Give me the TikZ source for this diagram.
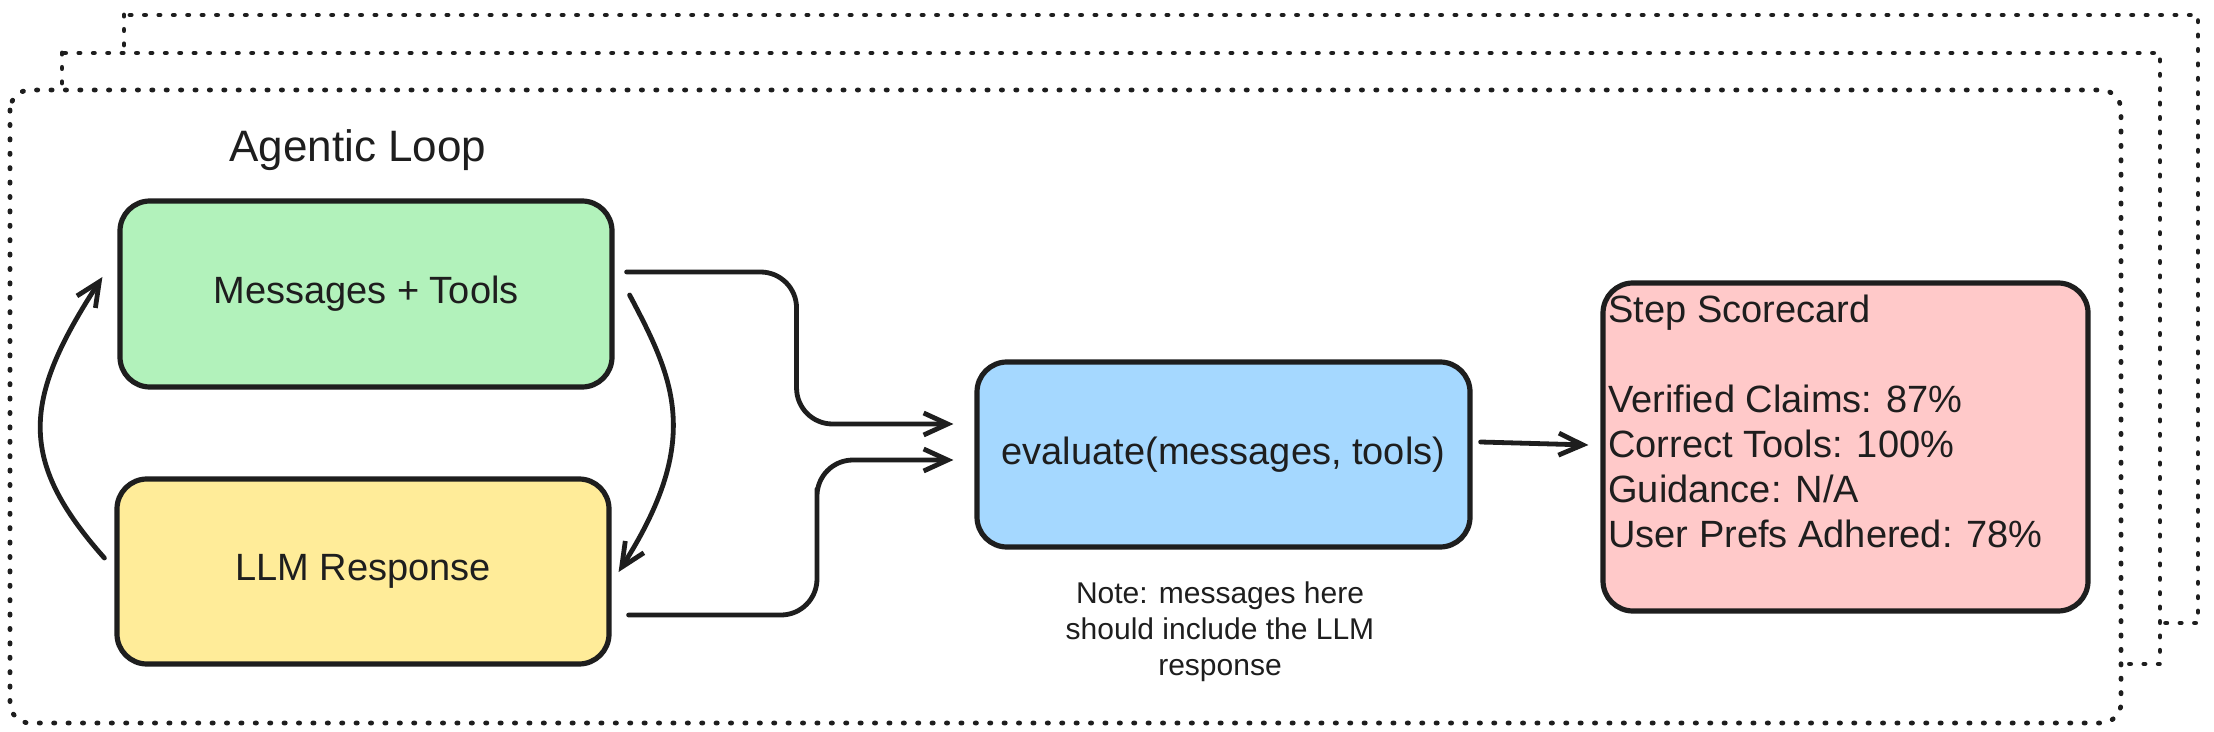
\documentclass[tikz,border=0pt]{standalone}
\usepackage{fontspec}
\setmainfont{Liberation Sans}
\usepackage{xcolor}
\usepackage{tikz}
\usetikzlibrary{calc,arrows.meta}
\definecolor{ink}{HTML}{1E1E1E}
\definecolor{mint}{HTML}{B2F2BB}
\definecolor{butter}{HTML}{FFEC99}
\definecolor{sky}{HTML}{A5D8FF}
\definecolor{blush}{HTML}{FFC9C9}
\tikzset{
  frameDots/.style={draw=ink, fill=white, line width=2.4pt, line cap=round, dash pattern=on 0.6pt off 6.6pt},
  boxEdge/.style={draw=ink, line width=2.6pt, rounded corners=15pt, inner sep=0pt, text=ink},
  flowArr/.style={draw=ink, line width=2.4pt, line cap=round, line join=round, -{Straight Barb[length=12pt,width=11pt]}},
  mainLbl/.style={font=\fontsize{19}{22.5}\selectfont},
  titleLbl/.style={text=ink, font=\fontsize{22}{26}\selectfont},
  noteLbl/.style={text=ink, align=center, inner sep=0pt, font=\fontsize{15}{18}\selectfont},
}
\newcommand{\FrameStack}{%
  \draw[frameDots] (124,15) rectangle (2198,623);
  \draw[frameDots] (62,53) rectangle (2160,664);
  \draw[frameDots, rounded corners=10pt] (10,90) rectangle (2121,723);
}

\begin{document}
\begin{tikzpicture}[x=0.5pt, y=-0.5pt]
  \useasboundingbox (0,0) rectangle (2214,732);
  \FrameStack

  \node[titleLbl] (title) at (358,150) {Agentic Loop};

  \node[boxEdge, mainLbl, fill=mint, minimum width=246pt, minimum height=93pt] (msgs) at (366,294) {Messages + Tools};
  \node[boxEdge, mainLbl, fill=butter, minimum width=246pt, minimum height=92.5pt] (llm) at (363,571.5) {LLM Response};
  \node[boxEdge, mainLbl, fill=sky, minimum width=246.5pt, minimum height=92.5pt] (eval) at (1223.5,454.5) {evaluate(messages, tools)};
  \node[boxEdge, fill=blush, minimum width=242.5pt, minimum height=164pt] (score) at (1845.5,447) {};
  \node[mainLbl, text=ink, align=left, inner sep=0pt, anchor=north west] (scoreTxt) at (1608,295)
    {Step Scorecard\\[22.5pt]Verified Claims: 87\%\\Correct Tools: 100\%\\Guidance: N/A\\User Prefs Adhered: 78\%};
  \node[noteLbl, anchor=north] (note) at (1220,581) {Note: messages here\\should include the LLM\\response};

  % loop between the two boxes
  \coordinate (s1) at ($(llm.west)+(-10,-13.5)$);
  \coordinate (t1) at ($(msgs.west)+(-15,-17)$);
  \draw[flowArr] (s1) .. controls +(-87,-98) and +(-80,123) .. (t1);
  \coordinate (s2) at ($(msgs.east)+(15,1)$);
  \coordinate (t2) at ($(llm.east)+(7,0.5)$);
  \draw[flowArr] (s2) .. controls +(45,85) and +(84,-132) .. (t2);

  % into evaluate
  \coordinate (s3) at ($(msgs.east)+(12,-22)$);
  \coordinate (t3) at ($(eval.west)+(-21,-30.5)$);
  \draw[flowArr, rounded corners=18pt] (s3) -| ($(s3)!0.52!(t3)$) |- (t3);
  \coordinate (s4) at ($(llm.east)+(17,43.5)$);
  \coordinate (t4) at ($(eval.west)+(-21,5.5)$);
  \draw[flowArr, rounded corners=18pt] (s4) -| ($(s4)!0.58!(t4)$) |- (t4);

  \coordinate (s5) at ($(eval.east)+(8,-12.5)$);
  \coordinate (t5) at ($(score.west)+(-12,-2)$);
  \draw[flowArr] (s5) -- (t5);
\end{tikzpicture}
\end{document}
